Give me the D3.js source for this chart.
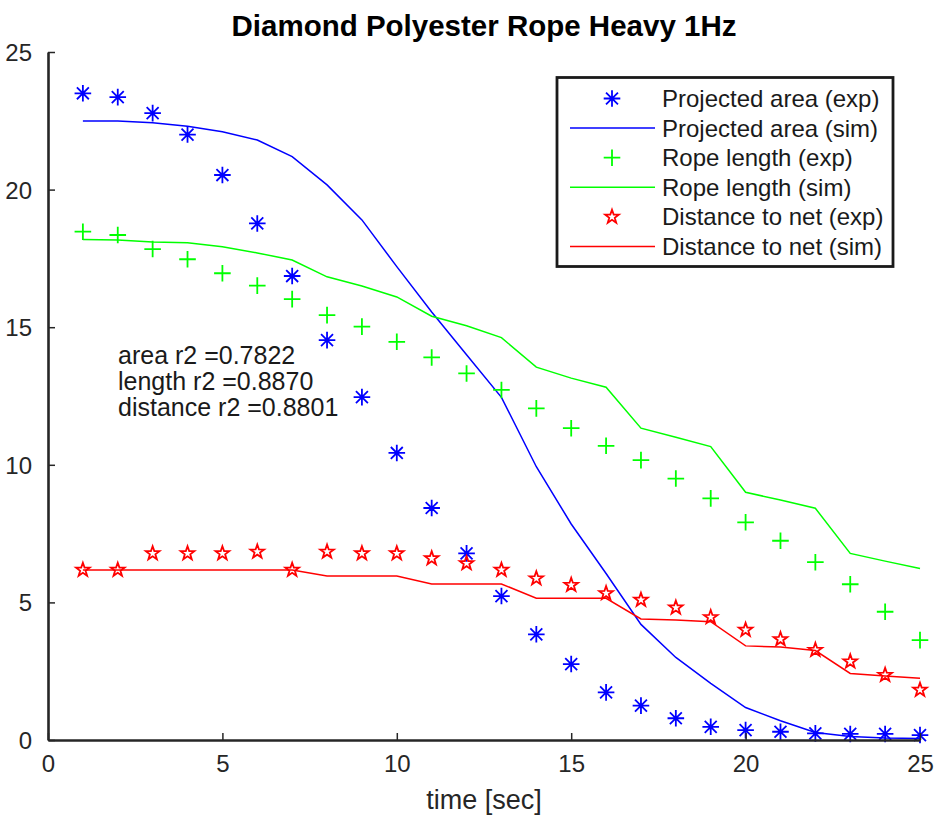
<!DOCTYPE html>
<html>
<head>
<meta charset="utf-8">
<script src="https://cdn.jsdelivr.net/npm/d3@7"></script>
<style>
  html, body { margin: 0; padding: 0; background: #fff; }
  svg { display: block; font-family: "Liberation Sans", Arial, Helvetica, sans-serif; }
</style>
</head>
<body>
<svg id="chart" width="934" height="818"></svg>
<script>
const time = [1,2,3,4,5,6,7,8,9,10,11,12,13,14,15,16,17,18,19,20,21,22,23,24,25];
const areaExp = [23.5,23.36,22.78,22.0,20.53,18.77,16.86,14.53,12.46,10.43,8.43,6.78,5.23,3.84,2.76,1.73,1.25,0.79,0.48,0.36,0.3,0.24,0.22,0.22,0.18];
const areaSim = [22.49,22.49,22.43,22.3,22.1,21.8,21.2,20.17,18.9,17.2,15.55,14.0,12.45,9.93,7.85,6.05,4.2,3.0,2.06,1.18,0.7,0.27,0.13,0.07,0.05];
const lenExp = [18.47,18.35,17.84,17.47,16.96,16.51,16.02,15.44,15.02,14.47,13.9,13.32,12.72,12.05,11.33,10.69,10.17,9.5,8.78,7.91,7.24,6.46,5.66,4.66,3.63];
const lenSim = [18.19,18.17,18.1,18.07,17.92,17.7,17.44,16.83,16.5,16.1,15.4,15.05,14.62,13.55,13.15,12.82,11.33,11.0,10.66,9.0,8.72,8.42,6.78,6.5,6.23];
const distExp = [6.18,6.18,6.78,6.78,6.78,6.84,6.18,6.84,6.78,6.78,6.6,6.42,6.18,5.87,5.63,5.33,5.09,4.81,4.46,4.0,3.66,3.27,2.85,2.36,1.82];
const distSim = [6.18,6.18,6.18,6.18,6.18,6.18,6.18,5.96,5.96,5.96,5.67,5.67,5.67,5.15,5.15,5.15,4.4,4.36,4.3,3.42,3.38,3.25,2.42,2.33,2.24];

const xTicks = [0,5,10,15,20,25];
const yTicks = [0,5,10,15,20,25];
const titleText = "Diamond Polyester Rope Heavy 1Hz";
const xLabel = "time [sec]";
const notes = ["area r2 =0.7822", "length r2 =0.8870", "distance r2 =0.8801"];
const legendLabels = ["Projected area (exp)","Projected area (sim)","Rope length (exp)","Rope length (sim)","Distance to net (exp)","Distance to net (sim)"];

const svg = d3.select("#chart");
const x = d3.scaleLinear().domain([0,25]).range([48,920]);
const y = d3.scaleLinear().domain([0,25]).range([740,52]);
const axisColor = "#262626";

// title
svg.append("text").attr("x", 484).attr("y", 36).attr("text-anchor","middle")
  .attr("font-size", 29.5).attr("font-weight","bold").attr("fill","#000").text(titleText);

// marker paths
function asterisk(h){ const d=h*0.72; return `M0,${-h}V${h}M${-h},0H${h}M${-d},${-d}L${d},${d}M${-d},${d}L${d},${-d}`; }
function plus(h){ return `M0,${-h}V${h}M${-h},0H${h}`; }
function pentagram(R){
  const r = R*0.4; let p = [];
  for (let k=0;k<10;k++){ const a = (-90 + 36*k)*Math.PI/180; const rr = k%2===0?R:r; p.push([rr*Math.cos(a), rr*Math.sin(a)]); }
  return "M" + p.map(q=>q[0].toFixed(2)+","+q[1].toFixed(2)).join("L") + "Z";
}

const line = d3.line().x((d,i)=>x(time[i])).y(d=>y(d));
const series = [
  {exp: areaExp, sim: areaSim, color:"#0000ff", marker: asterisk(8.3)},
  {exp: lenExp, sim: lenSim, color:"#00ff00", marker: plus(8.3)},
  {exp: distExp, sim: distSim, color:"#ff0000", marker: pentagram(7.2)}
];

const plot = svg.append("g");
series.forEach(s => {
  plot.append("path").datum(s.sim).attr("d", line).attr("fill","none")
    .attr("stroke", s.color).attr("stroke-width", 1.5);
  plot.selectAll(null).data(s.exp).enter().append("path")
    .attr("transform", (d,i)=>`translate(${x(time[i])},${y(d)})`)
    .attr("d", s.marker).attr("fill","none").attr("stroke", s.color).attr("stroke-width", 1.8);
});

// axes
const xAxis = d3.axisBottom(x).tickValues(xTicks).tickSize(-7).tickPadding(15).tickSizeOuter(0);
const yAxis = d3.axisLeft(y).tickValues(yTicks).tickSize(-7).tickPadding(16).tickSizeOuter(0);
const gx = svg.append("g").attr("transform","translate(0,740)").call(xAxis);
const gy = svg.append("g").attr("transform","translate(48,0)").call(yAxis);
[gx, gy].forEach(g => {
  g.select(".domain").attr("stroke", axisColor).attr("stroke-width", 2.6);
  g.selectAll(".tick line").attr("stroke", axisColor).attr("stroke-width", 1.5);
  g.selectAll(".tick text").attr("fill", axisColor).attr("font-size", 24)
    .attr("font-family", "Liberation Sans, Arial, Helvetica, sans-serif");
});
gx.selectAll(".tick text").attr("dy", "0.71em");
gy.selectAll(".tick text").attr("dy", "0.35em");

// x label
svg.append("text").attr("x", 484).attr("y", 809).attr("text-anchor","middle")
  .attr("font-size", 27).attr("fill", axisColor).text(xLabel);

// annotations
svg.selectAll(".note").data(notes).enter().append("text").attr("class","note")
  .attr("x", 118).attr("y", (d,i)=>355 + i*26).attr("dy","0.35em")
  .attr("font-size", 25).attr("fill","#1a1a1a").text(d=>d);

// legend
const lg = svg.append("g");
lg.append("rect").attr("x", 557).attr("y", 77.5).attr("width", 336).attr("height", 189)
  .attr("fill","#fff").attr("stroke","#1a1a1a").attr("stroke-width", 2.8);
legendLabels.forEach((lab, i) => {
  const yy = 98.5 + i*29.6;
  const s = series[Math.floor(i/2)];
  if (i % 2 === 0) {
    lg.append("path").attr("transform",`translate(612,${yy})`).attr("d", s.marker)
      .attr("fill","none").attr("stroke", s.color).attr("stroke-width", 1.8);
  } else {
    lg.append("line").attr("x1", 570).attr("x2", 655).attr("y1", yy).attr("y2", yy)
      .attr("stroke", s.color).attr("stroke-width", 1.5);
  }
  lg.append("text").attr("x", 662).attr("y", yy).attr("dy","0.35em")
    .attr("font-size", 24).attr("fill","#1a1a1a").text(lab);
});
</script>
</body>
</html>
